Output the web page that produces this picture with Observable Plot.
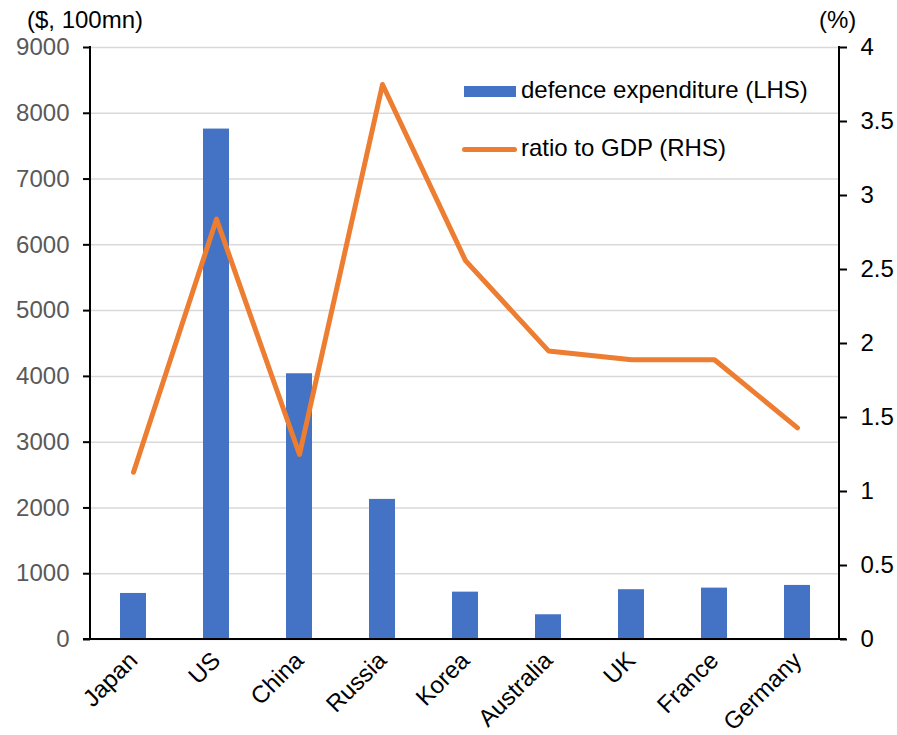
<!DOCTYPE html>
<html>
<head>
<meta charset="utf-8">
<script src="https://cdn.jsdelivr.net/npm/d3@7"></script>
<script src="https://cdn.jsdelivr.net/npm/@observablehq/plot@0.6"></script>
<style>
  body { margin: 0; background: #fff; }
  #wrap { position: relative; width: 897px; height: 735px; font-family: "Liberation Sans", Arial, sans-serif; }
  .lbl { position: absolute; font-size: 24px; line-height: 24px; color: #000; white-space: nowrap; }
  .swatch-bar { position: absolute; background: #4472C4; }
  .swatch-line { position: absolute; background: #ED7D31; border-radius: 3px; }
</style>
</head>
<body>
<div id="wrap">
  <div class="lbl" style="left:27px; top:8px;">($, 100mn)</div>
  <div class="lbl" style="left:819px; top:8px;">(%)</div>
  <div class="swatch-bar" style="left:464px; top:86px; width:52px; height:11px;"></div>
  <div class="lbl" style="left:521px; top:78px;">defence expenditure (LHS)</div>
  <div class="swatch-line" style="left:462px; top:147px; width:55px; height:5px;"></div>
  <div class="lbl" style="left:521px; top:136px;">ratio to GDP (RHS)</div>
</div>
<script>
// Defence spending by country ($100mn, left axis) and as a share of GDP (%, right axis)
const countries = ["Japan", "US", "China", "Russia", "Korea", "Australia", "UK", "France", "Germany"];
const expenditure = [700, 7760, 4040, 2130, 720, 376, 757, 781, 822];
const gdpRatio = [1.13, 2.84, 1.25, 3.75, 2.56, 1.95, 1.89, 1.89, 1.43];
const leftTicks = [0, 1000, 2000, 3000, 4000, 5000, 6000, 7000, 8000, 9000];
const rightTicks = [0, 0.5, 1, 1.5, 2, 2.5, 3, 3.5, 4];

// Right axis (0–4 %) shares the left scale (0–9000)
const lhsMax = 9000, rhsMax = 4;
const toLeft = v => v * lhsMax / rhsMax;

const data = countries.map((c, i) => ({country: c, expenditure: expenditure[i], ratio: gdpRatio[i]}));

// Axis lines drawn along the plot frame
const frameLines = (index, scales, values, dimensions) => {
  const {width, height, marginLeft, marginRight, marginTop, marginBottom} = dimensions;
  const g = d3.create("svg:g").attr("stroke", "#000").attr("stroke-width", 2);
  g.append("line").attr("x1", marginLeft).attr("x2", marginLeft).attr("y1", marginTop - 1).attr("y2", height - marginBottom);
  g.append("line").attr("x1", width - marginRight).attr("x2", width - marginRight).attr("y1", marginTop - 1).attr("y2", height - marginBottom);
  g.append("line").attr("x1", marginLeft - 7).attr("x2", width - marginRight + 7).attr("y1", height - marginBottom).attr("y2", height - marginBottom);
  return g.node();
};

const chart = Plot.plot({
  width: 897,
  height: 735,
  marginLeft: 90,
  marginRight: 58,
  marginTop: 47,
  marginBottom: 96,
  style: {fontFamily: "Liberation Sans, Arial, sans-serif", fontSize: "24px", background: "transparent"},
  x: {domain: countries, paddingInner: 0.69, paddingOuter: 0.345},
  y: {domain: [0, lhsMax]},
  marks: [
    Plot.gridY(leftTicks, {stroke: "#d9d9d9", strokeOpacity: 1, strokeWidth: 1.5}),
    Plot.barY(data, {x: "country", y: "expenditure", fill: "#4472C4"}),
    Plot.lineY(data, {x: "country", y: d => toLeft(d.ratio), stroke: "#ED7D31", strokeWidth: 5, strokeLinecap: "round", strokeLinejoin: "round"}),
    Plot.axisY(leftTicks, {anchor: "left", label: null, tickSize: 7, tickPadding: 14, stroke: "#000", strokeWidth: 2, fill: "#595959", fontSize: 24,
      tickFormat: d => String(d)}),
    Plot.axisY(rightTicks.map(toLeft), {anchor: "right", label: null, tickSize: 7, tickPadding: 14, stroke: "#000", strokeWidth: 2, fill: "#000", fontSize: 24,
      tickFormat: d => String(+(d * rhsMax / lhsMax).toFixed(2))}),
    Plot.axisX({anchor: "bottom", label: null, tickSize: 0, tickPadding: 17, tickRotate: -45, fill: "#000", fontSize: 24}),
    frameLines
  ]
});
chart.style.position = "absolute";
chart.style.left = "0px";
chart.style.top = "0px";
const wrap = document.getElementById("wrap");
wrap.insertBefore(chart, wrap.firstChild);
</script>
</body>
</html>
